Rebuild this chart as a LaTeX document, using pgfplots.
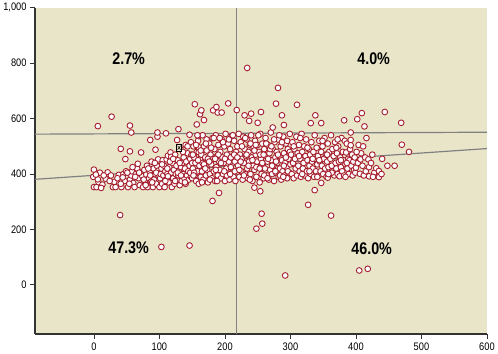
\documentclass[border=0pt]{standalone}
\usepackage{fontspec}
\setmainfont{Liberation Sans}[FakeStretch=0.85]
\usepackage{pgfplots}
\pgfplotsset{compat=1.18}
\definecolor{bg}{RGB}{233,229,201}
\definecolor{mk}{RGB}{165,30,45}
\definecolor{ln}{RGB}{128,128,128}
\begin{document}
\begin{tikzpicture}
\begin{axis}[
 scale only axis, width=456pt, height=329pt,
 xmin=-90, xmax=600, ymin=-177, ymax=1000,
 axis x line*=bottom, axis y line*=left,
 axis line style={-, line width=1.2pt, color=black!80},
 axis background/.style={fill=bg},
 xtick={0,100,...,600}, ytick={0,200,...,1000},
 tick align=outside, major tick length=5pt,
 tick style={line width=0.8pt, black!80},
 /pgf/number format/assume math mode=true,
 /pgf/number format/1000 sep={,},
 ticklabel style={font=\fontsize{11}{11}\selectfont},
]
\addplot[ln, line width=1.2pt, forget plot] coordinates {(217.5,-177) (217.5,1000)};
\addplot[ln, line width=1.2pt, forget plot] coordinates {(-90,544) (600,551)};
\addplot[ln, line width=1.2pt, forget plot] coordinates {(-90,381) (600,492)};
\addplot[only marks, mark=*, mark size=2.9pt, mark options={fill=white, draw=mk, line width=0.9pt}] coordinates {
(0,416) (-1,390) (0,353) (4,353) (7,371) (6,381) (9,405) (21,406) (29,353) (33,353) (22,389) (18,383) (38,397) (13,362) (26,395) (31,372) (36,385) (42,353) (45,400) (47,375) (49,410) (41,365) (15,395) (3,398) (11,350) (24,375) (44,388)
(6,573) (27,607) (40,252) (41,491) (48,454) (55,575) (57,550) (55,482)
(52,353) (55,380) (57,395) (58,410) (60,368) (62,353) (64,400) (66,420) (67,437) (68,385) (70,360) (72,478) (72,405) (74,392) (75,353) (77,415) (78,370) (80,398) (81,430) (82,353) (84,385) (85,410) (86,523) (87,372) (88,445) (89,395) (90,353) (91,420) (92,380) (93,400) (94,488) (95,365) (96,430) (97,535) (97,550) (98,412) (98,453) (99,390) (100,353) (51,405) (54,365) (59,425) (63,390) (69,405) (76,380) (79,360) (83,420) (86,395) (89,370) (93,440) (95,405)
(101,385) (102,400) (103,137) (103,420) (104,365) (105,450) (106,395) (107,430) (108,353) (109,410) (110,547) (110,380) (111,453) (112,400) (113,466) (114,370) (115,425) (116,390) (117,478) (118,462) (118,405) (119,353) (120,440) (121,385) (122,415) (123,365) (124,470) (125,400) (126,430) (127,523) (127,380) (128,450) (129,562) (129,395) (130,410) (131,360) (132,490) (133,425) (134,375) (135,440) (136,400) (137,460) (138,385) (139,420) (140,505) (140,365) (141,445) (142,395) (143,475) (144,410) (145,380) (146,542) (146,142) (146,430) (147,455) (148,515) (148,390) (149,470) (104,435) (109,375) (113,392) (116,445) (121,455) (124,375) (128,405) (133,395) (136,480) (139,370) (143,500) (147,405) (150,440) (112,420) (131,440)
(150,385) (151,420) (152,500) (153,460) (154,652) (154,395) (155,440) (156,375) (157,579) (157,480) (158,410) (159,520) (160,537) (160,497) (160,479) (160,365) (161,430) (162,616) (162,455) (163,390) (164,630) (164,470) (165,410) (166,540) (166,440) (167,380) (168,595) (168,500) (169,425) (170,460) (171,395) (172,525) (172,485) (173,415) (174,370) (175,445) (176,510) (177,400) (178,470) (179,435) (180,385) (181,303) (181,530) (182,630) (182,455) (183,410) (184,490) (185,375) (186,540) (187,642) (187,425) (188,465) (189,622) (189,395) (190,505) (191,332) (191,445) (192,415) (193,480) (194,385) (195,622) (195,525) (196,460) (197,400) (198,440) (199,500) (200,375) (201,545) (202,420) (203,470) (204,395) (205,655) (205,510) (206,445) (207,380) (208,490) (209,425) (210,535) (211,405) (212,465) (213,390) (214,520) (215,445) (216,375) (217,480) (151,470) (153,405) (156,505) (159,450) (163,485) (165,370) (168,435) (171,510) (174,455) (177,380) (179,495) (183,530) (186,415) (190,470) (194,440) (197,515) (200,455) (203,395) (206,525) (209,460) (212,540) (215,410) (152,395) (158,540) (170,420) (176,445) (185,455) (192,530) (199,410) (208,400) (214,470) (188,375)
(218,631) (219,500) (220,430) (221,545) (222,390) (223,470) (224,515) (225,410) (226,455) (227,380) (228,535) (229,440) (230,612) (230,490) (231,400) (232,465) (233,525) (234,783) (234,420) (235,385) (236,480) (237,592) (237,445) (238,505) (239,400) (240,618) (240,540) (241,460) (242,375) (243,430) (244,495) (245,351) (245,415) (246,520) (247,470) (248,203) (248,390) (249,445) (250,585) (250,505) (251,425) (252,480) (253,370) (254,338) (254,545) (255,624) (255,455) (256,257) (257,221) (256,400) (257,510) (258,435) (259,385) (260,490) (261,420) (262,530) (263,465) (264,395) (265,445) (266,505) (267,380) (268,475) (269,415) (270,550) (271,450) (272,400) (273,568) (273,490) (274,430) (275,375) (276,515) (277,460) (278,654) (278,405) (279,480) (280,440) (281,711) (281,525) (282,390) (283,465) (284,420) (285,500) (286,380) (287,612) (287,450) (288,410) (289,535) (290,577) (290,475) (291,395) (292,34) (292,440) (293,510) (294,425) (295,385) (296,490) (297,455) (298,405) (299,545) (300,435) (219,460) (222,415) (226,500) (229,395) (233,470) (236,430) (239,510) (242,450) (245,485) (248,425) (251,540) (254,470) (257,440) (260,395) (263,510) (266,455) (269,490) (272,430) (275,525) (278,445) (281,470) (284,395) (287,515) (290,430) (293,460) (296,410) (299,480) (224,445) (231,530) (238,380) (247,505) (253,420) (259,470) (265,385) (271,500) (277,410) (283,540) (289,390) (295,520)
(301,470) (302,400) (303,515) (304,440) (305,385) (306,490) (307,455) (308,420) (309,535) (310,650) (310,395) (311,475) (312,430) (313,505) (314,410) (315,455) (316,390) (317,545) (318,480) (319,420) (320,440) (321,500) (322,395) (323,465) (324,525) (325,410) (326,450) (327,289) (327,385) (328,490) (329,430) (330,470) (331,584) (331,400) (332,515) (333,445) (334,420) (335,480) (336,390) (337,342) (337,540) (338,612) (338,455) (339,410) (340,495) (341,435) (342,465) (343,395) (344,520) (345,445) (346,410) (347,584) (347,368) (347,480) (348,430) (349,500) (350,400) (351,455) (352,530) (353,420) (354,470) (355,390) (356,445) (357,387) (357,510) (358,425) (359,480) (360,400) (361,455) (362,250) (362,540) (363,430) (364,490) (365,410) (366,465) (367,395) (368,515) (369,440) (370,420) (371,475) (372,400) (373,500) (374,445) (375,392) (376,460) (377,425) (378,530) (379,410) (380,480) (381,450) (382,594) (382,395) (383,520) (384,435) (385,478) (386,510) (387,420) (388,455) (389,400) (390,450) (391,490) (392,550) (392,523) (392,504) (393,430) (394,470) (395,395) (396,445) (397,415) (398,460) (399,405) (305,500) (313,465) (318,400) (326,495) (334,455) (341,390) (349,520) (356,470) (363,405) (370,495) (377,450) (384,390) (315,530) (329,410) (344,450) (358,400) (372,525) (386,440)
(400,423) (402,598) (403,440) (405,52) (406,401) (407,453) (408,475) (409,620) (410,430) (412,395) (413,572) (414,460) (415,410) (418,58) (419,453) (420,425) (420,392) (423,440) (425,470) (428,405) (431,421) (435,411) (435,389) (440,455) (444,624) (448,430) (459,430) (469,585) (470,506) (481,480) (404,505) (411,500) (416,530) (401,480) (426,390) (439,400)
};
\addplot[only marks, mark=square*, mark size=2.6pt, mark options={fill=bg, draw=black, line width=0.6pt, yscale=1.3}, forget plot] coordinates {(130,495)};
\addplot[only marks, mark=x, mark size=2.2pt, mark options={draw=black, line width=0.5pt, yscale=1.3}, forget plot] coordinates {(130,495)};
\node[font=\bfseries\fontsize{17}{17}\selectfont] at (axis cs:53,817) {2.7\%};
\node[font=\bfseries\fontsize{17}{17}\selectfont] at (axis cs:427,817) {4.0\%};
\node[font=\bfseries\fontsize{17}{17}\selectfont] at (axis cs:53,134) {47.3\%};
\node[font=\bfseries\fontsize{17}{17}\selectfont] at (axis cs:424,132) {46.0\%};
\end{axis}
\end{tikzpicture}
\end{document}
